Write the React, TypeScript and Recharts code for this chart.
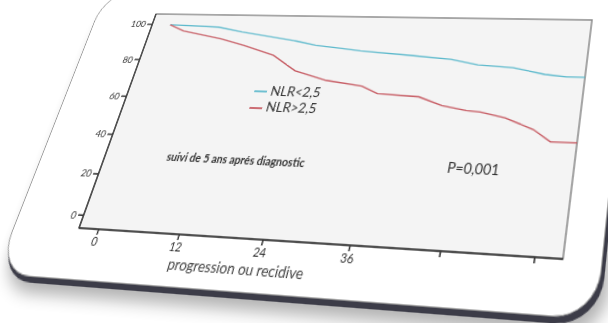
import React from "react";
import { LineChart, Line, XAxis, YAxis, Legend, ReferenceArea } from "recharts";

// Kaplan-Meier curves (months, % without progression)
const lowTimes = [0, 8, 12, 21, 24, 31, 39, 44.5, 48.5, 53.5, 58, 61, 63.5];
const lowSurv = [100, 99, 96.5, 92, 90, 87.5, 85.5, 84, 81.5, 80.5, 77.5, 76.5, 76.5];
const highTimes = [0, 2.5, 9, 13, 18, 22, 27, 32.5, 35, 41, 44.5, 48, 50, 53.5, 57.5, 60, 63.5];
const highSurv = [100, 96.5, 92.5, 89, 84, 76, 71.5, 69, 65.5, 64.5, 60.5, 58.5, 58, 55.5, 50.5, 45, 45];

const seriesNames = ["NLR<2,5", "NLR>2,5"];
const xTicks = [0, 12, 24, 36, 48, 60];
const xTickLabels = ["0", "12", "24", "36", "", ""];
const yTicks = [0, 20, 40, 60, 80, 100];

const lowData = lowTimes.map((t, i) => ({ t, s: lowSurv[i] }));
const highData = highTimes.map((t, i) => ({ t, s: highSurv[i] }));

// flat plot rectangle and where the photo puts its corners (TL, TR, BR, BL)
const PLOT = { x: 80, y: 40, w: 480, h: 220 };
const CORNERS = [
  [156, 14],
  [592, 20],
  [563, 259],
  [79, 228],
];

// rectangle -> quad projective transform, as a css matrix3d
function quadTransform() {
  const [[x0, y0], [x1, y1], [x2, y2], [x3, y3]] = CORNERS;
  const dx1 = x1 - x2, dx2 = x3 - x2, dx3 = x0 - x1 + x2 - x3;
  const dy1 = y1 - y2, dy2 = y3 - y2, dy3 = y0 - y1 + y2 - y3;
  const den = dx1 * dy2 - dx2 * dy1;
  const g = (dx3 * dy2 - dx2 * dy3) / den;
  const h = (dx1 * dy3 - dx3 * dy1) / den;
  const a = x1 - x0 + g * x1, b = x3 - x0 + h * x3, c = x0;
  const d = y1 - y0 + g * y1, e = y3 - y0 + h * y3, f = y0;
  const { x: X0, y: Y0, w: W, h: H } = PLOT;
  const m11 = a / W, m12 = b / H, m13 = c - (a * X0) / W - (b * Y0) / H;
  const m21 = d / W, m22 = e / H, m23 = f - (d * X0) / W - (e * Y0) / H;
  const m31 = g / W, m32 = h / H, m33 = 1 - (g * X0) / W - (h * Y0) / H;
  return `matrix3d(${m11},${m21},0,${m31},${m12},${m22},0,${m32},0,0,1,0,${m13},${m23},0,${m33})`;
}

const font = "Lato, 'Open Sans', sans-serif";

export default function App() {
  return (
    <div style={{ position: "absolute", left: 0, top: 0, width: 608, height: 323, overflow: "hidden", background: "#fff" }}>
      <div
        style={{
          position: "absolute",
          left: 0,
          top: 0,
          width: 640,
          height: 330,
          transformOrigin: "0 0",
          transform: quadTransform(),
          fontFamily: font,
        }}
      >
        {/* tablet frame */}
        <div
          style={{
            position: "absolute",
            left: 8,
            top: 12,
            width: 585,
            height: 292,
            borderRadius: 38,
            background: "#fff",
            border: "1px solid #9a9a9a",
            borderTopColor: "#eee",
            boxShadow: "3px 5px 0 #3c3c48, 8px 14px 14px rgba(0,0,0,0.3)",
          }}
        />
        <div style={{ position: "absolute", left: 0, top: 0 }}>
          <LineChart width={640} height={330} data={lowData} margin={{ top: 40, right: 80, bottom: 40, left: 20 }}>
            <ReferenceArea x1={-3} x2={63.5} y1={-6} y2={106} fill="#f4f4f4" fillOpacity={1} stroke="#8a8a8a" strokeWidth={1.5} />
            <XAxis
              dataKey="t"
              type="number"
              domain={[-3, 63.5]}
              allowDataOverflow
              ticks={xTicks}
              tickFormatter={(v) => xTickLabels[xTicks.indexOf(v)]}
              height={30}
              stroke="#333"
              strokeWidth={1.5}
              tickSize={5}
              tick={{ fontSize: 11, fill: "#333", fontFamily: font }}
            />
            <YAxis
              type="number"
              domain={[-6, 106]}
              allowDataOverflow
              ticks={yTicks}
              width={60}
              stroke="#333"
              strokeWidth={1.5}
              tickSize={6}
              tick={{ fontSize: 10, fill: "#333", fontFamily: font }}
            />
            <Legend
              layout="vertical"
              align="center"
              verticalAlign="middle"
              iconType="plainline"
              iconSize={14}
              wrapperStyle={{ left: 222, top: 112, width: "auto", height: "auto", fontSize: 14, lineHeight: "15px", fontFamily: font }}
              formatter={(v) => <span style={{ color: "#333" }}>{v}</span>}
            />
            <Line data={lowData} dataKey="s" name={seriesNames[0]} type="linear" stroke="#5cb9cc" strokeWidth={1.3} dot={false} isAnimationActive={false} />
            <Line data={highData} dataKey="s" name={seriesNames[1]} type="linear" stroke="#c65a62" strokeWidth={1.3} dot={false} isAnimationActive={false} />
          </LineChart>
        </div>
        <div style={{ position: "absolute", left: 149, top: 182, fontSize: 11, fontWeight: 700, color: "#333", whiteSpace: "nowrap" }}>
          suivi de 5 ans aprés diagnostic
        </div>
        <div style={{ position: "absolute", left: 440, top: 179, fontSize: 13.5, color: "#333", whiteSpace: "nowrap" }}>P=0,001</div>
        <div style={{ position: "absolute", left: 186, top: 278, fontSize: 13.5, color: "#444", whiteSpace: "nowrap" }}>
          progression ou recidive
        </div>
      </div>
    </div>
  );
}
